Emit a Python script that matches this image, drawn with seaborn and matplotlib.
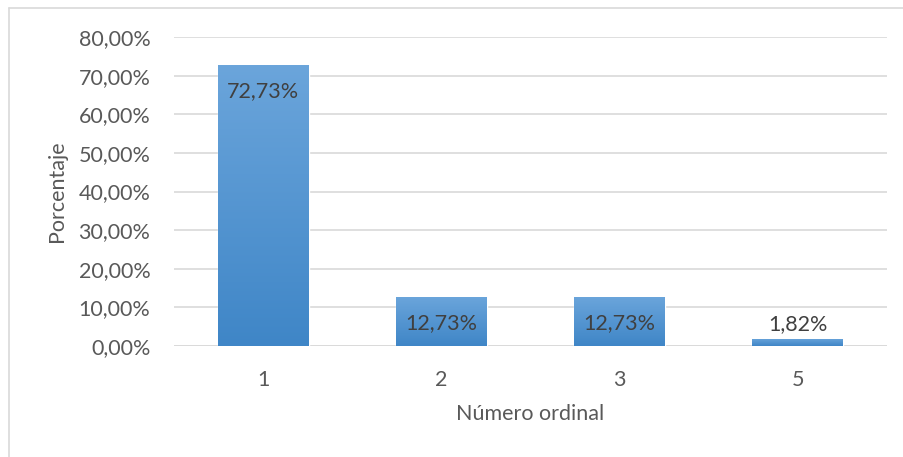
import numpy as np
import pandas as pd
import matplotlib
matplotlib.use('Agg')
import matplotlib.pyplot as plt
import seaborn as sns
from matplotlib.colors import LinearSegmentedColormap
from matplotlib.lines import Line2D

categories = ['1', '2', '3', '5']
percentages = [72.73, 12.73, 12.73, 1.82]
y_ticks = [0, 10, 20, 30, 40, 50, 60, 70, 80]

df = pd.DataFrame({'ordinal': categories, 'pct': percentages})

sns.set_theme(style='white')
plt.rcParams['font.family'] = ['Lato', 'DejaVu Sans']

text_color = '#595959'
fs = 15.5
fig = plt.figure(figsize=(9.04, 4.57), dpi=100)
ax = fig.add_axes([174 / 904, 1 - 346 / 457, 713 / 904, 309 / 457])

sns.barplot(data=df, x='ordinal', y='pct', color='#5B9BD5', width=0.51,
            saturation=1, ax=ax, zorder=3)

# gradient fill clipped to each bar
cmap = LinearSegmentedColormap.from_list('bar', ['#3F86C7', '#6BA5DB'])
grad = np.linspace(0, 1, 256).reshape(-1, 1)
for p in ax.patches:
    x0, y0 = p.get_x(), p.get_y()
    w, h = p.get_width(), p.get_height()
    im = ax.imshow(grad, cmap=cmap, aspect='auto', origin='lower',
                   extent=[x0, x0 + w, y0, y0 + h], zorder=4)
    im.set_clip_path(p)

# value labels
for p, v in zip(ax.patches, percentages):
    cx = p.get_x() + p.get_width() / 2
    label = f'{v:.2f}%'.replace('.', ',')
    if v > 5:
        ax.annotate(label, (cx, v), xytext=(0, -19), textcoords='offset points',
                    ha='center', va='center', fontsize=fs, color='#404040', zorder=6)
    else:
        ax.annotate(label, (cx, v), xytext=(0, 11), textcoords='offset points',
                    ha='center', va='center', fontsize=fs, color='#404040', zorder=6)

ax.set_ylim(0, 80)
ax.set_xlim(-0.5, len(categories) - 0.5)
ax.set_yticks(y_ticks)
ax.set_yticklabels([f'{t:.2f}%'.replace('.', ',') for t in y_ticks])
ax.yaxis.grid(True, color='#D9D9D9', linewidth=1.2, zorder=0)
ax.xaxis.grid(False)
for s in ax.spines.values():
    s.set_visible(False)
ax.axhline(0, color='#D9D9D9', linewidth=1.2, zorder=2)
ax.tick_params(axis='both', length=0, labelsize=fs, colors=text_color)
ax.tick_params(axis='y', pad=17)
ax.tick_params(axis='x', pad=17)
ax.set_xlabel('Número ordinal', fontsize=fs, color=text_color, labelpad=10)
ax.set_ylabel('Porcentaje', fontsize=fs, color=text_color, labelpad=8)

# chart border (top and left visible)
fig.add_artist(Line2D([8.5 / 904, 1], [1 - 7.5 / 457] * 2, color='#D9D9D9', lw=1.2))
fig.add_artist(Line2D([8.5 / 904] * 2, [0, 1 - 7.5 / 457], color='#D9D9D9', lw=1.2))

fig.savefig('out.png', dpi=100)
